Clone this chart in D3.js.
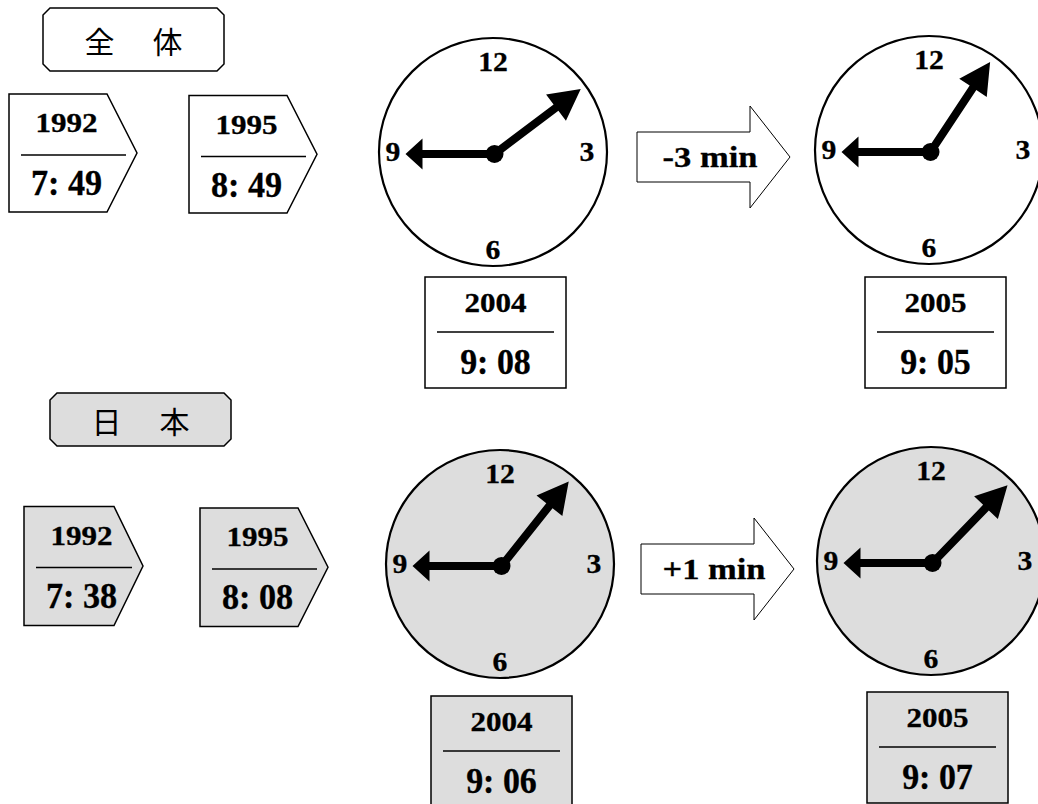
<!DOCTYPE html>
<html lang="ja">
<head>
<meta charset="utf-8">
<title>通勤時間</title>
<script src="https://cdnjs.cloudflare.com/ajax/libs/d3/7.8.5/d3.min.js"></script>
<style>
body { margin: 0; background: #fff; }
svg text { font-family: "Liberation Serif", "Times New Roman", serif; font-weight: bold; fill: #000; stroke: #000; stroke-width: 0.3px; }
svg text.jp { font-family: "Noto Sans CJK JP", sans-serif; font-weight: normal; stroke: none; }
</style>
</head>
<body>
<svg id="chart" width="1038" height="804"></svg>
<script>
// data
var groups = ["全　体", "日　本"];
var pastYears = [1992, 1995];
var pastTimes = [["7:49", "8:49"], ["7:38", "8:08"]];
var clockYears = [2004, 2005];
var clockTimes = [["9:08", "9:05"], ["9:06", "9:07"]];
var changes = ["-3 min", "+1 min"];
// long hand as drawn in the picture, degrees clockwise from 12
var minuteHandDeg = [[53, 33.5], [38.5, 44]];
var dialHours = [12, 3, 6, 9];
var fills = ["#ffffff", "#dddddd"];

// layout
var rows = [
  { title: {x: 43, y: 8, w: 181, h: 63},
    pents: [{x: 9, y: 94, w: 98, tip: 128, h: 118}, {x: 189, y: 95.5, w: 98, tip: 128, h: 117.5}],
    clocks: [{x: 493, y: 152}, {x: 929, y: 150}],
    boxes: [{x: 425, y: 277}, {x: 865, y: 277}],
    arrow: {x: 637, y: 157} },
  { title: {x: 50, y: 393, w: 181, h: 53},
    pents: [{x: 24, y: 506.5, w: 90, tip: 119, h: 119}, {x: 200, y: 508, w: 98, tip: 128, h: 118.5}],
    clocks: [{x: 500, y: 564}, {x: 931, y: 561}],
    boxes: [{x: 431, y: 696}, {x: 867, y: 692}],
    arrow: {x: 641, y: 569} }
];
var R = 114;
var dialR = {12: 90, 3: 94, 6: 98, 9: 100};

var svg = d3.select("#chart");
var hourScale = d3.scaleLinear().domain([0, 12]).range([0, 360]);
var line = d3.line();

function label(g, str, x, y, size, sx) {
  return g.append("text")
    .attr("transform", "translate(" + x + "," + y + ") scale(" + sx + ",1)")
    .attr("text-anchor", "middle")
    .style("font-size", size + "px")
    .text(str);
}

function handPath(L, w, hl, hw) {
  var b = -(L - hl);
  return line([[-w / 2, 0], [-w / 2, b], [-hw / 2, b], [0, -L], [hw / 2, b], [w / 2, b], [w / 2, 0]]) + "Z";
}

rows.forEach(function (row, r) {
  var g = svg.append("g");
  var fill = fills[r];

  // title box with cut corners
  var t = row.title, c = 7;
  g.append("path")
    .attr("d", line([[t.x + c, t.y], [t.x + t.w - c, t.y], [t.x + t.w, t.y + c], [t.x + t.w, t.y + t.h - c],
      [t.x + t.w - c, t.y + t.h], [t.x + c, t.y + t.h], [t.x, t.y + t.h - c], [t.x, t.y + c]]) + "Z")
    .attr("fill", fill).attr("stroke", "#000").attr("stroke-width", 1.5);
  g.append("text").attr("class", "jp")
    .attr("x", t.x + t.w / 2 + 2).attr("y", t.y + t.h / 2)
    .attr("text-anchor", "middle").attr("dominant-baseline", "central")
    .style("font-size", "30px").style("letter-spacing", "4px")
    .text(groups[r]);

  // past years (pentagons)
  row.pents.forEach(function (p, i) {
    g.append("path")
      .attr("d", line([[p.x, p.y], [p.x + p.w, p.y], [p.x + p.tip, p.y + p.h / 2], [p.x + p.w, p.y + p.h], [p.x, p.y + p.h]]) + "Z")
      .attr("fill", fill).attr("stroke", "#000").attr("stroke-width", 1.5);
    g.append("line")
      .attr("x1", p.x + 12).attr("x2", p.x + p.tip - 11)
      .attr("y1", p.y + 61).attr("y2", p.y + 61)
      .attr("stroke", "#000").attr("stroke-width", 1.5);
    label(g, pastYears[i], p.x + 57.5, p.y + 38, 27, 1.15);
    label(g, pastTimes[r][i].replace(":", ": "), p.x + 57.5, p.y + 101, 36, 0.95);
  });

  // change arrow
  var a = row.arrow;
  g.append("path")
    .attr("d", line([[a.x, a.y - 25], [a.x + 113, a.y - 25], [a.x + 113, a.y - 51], [a.x + 153, a.y],
      [a.x + 113, a.y + 51], [a.x + 113, a.y + 25], [a.x, a.y + 25]]) + "Z")
    .attr("fill", "#fff").attr("stroke", "#000").attr("stroke-width", 1);
  label(g, changes[r], a.x + 73, a.y + 10, 29.5, 1.17);

  // clocks
  row.clocks.forEach(function (ck, i) {
    var cg = g.append("g").attr("transform", "translate(" + ck.x + "," + ck.y + ")");
    cg.append("circle").attr("r", R).attr("fill", fill).attr("stroke", "#000").attr("stroke-width", 2.2);

    cg.selectAll("text.dial").data(dialHours).enter().append("text")
      .attr("class", "dial")
      .attr("transform", function (h) {
        var ang = hourScale(h) * Math.PI / 180;
        return "translate(" + (dialR[h] * Math.sin(ang)) + "," + (-dialR[h] * Math.cos(ang) + 9) + ") scale(1.12,1)";
      })
      .attr("text-anchor", "middle")
      .style("font-size", "26.5px")
      .text(function (h) { return h; });

    var hub = cg.append("g").attr("transform", "translate(1.5,2)");
    var hour = +clockTimes[r][i].split(":")[0];
    hub.append("path")
      .attr("d", handPath(89, 8, 17, 31))
      .attr("transform", "rotate(" + hourScale(hour) + ")");
    hub.append("path")
      .attr("d", handPath(108, 8, 31, 33))
      .attr("transform", "rotate(" + minuteHandDeg[r][i] + ")");
    hub.append("circle").attr("r", 9);

    // year / time box below the clock
    var b = row.boxes[i];
    g.append("rect").attr("x", b.x).attr("y", b.y).attr("width", 141).attr("height", 111)
      .attr("fill", fill).attr("stroke", "#000").attr("stroke-width", 1.5);
    g.append("line")
      .attr("x1", b.x + 12).attr("x2", b.x + 129)
      .attr("y1", b.y + 55).attr("y2", b.y + 55)
      .attr("stroke", "#000").attr("stroke-width", 1.5);
    label(g, clockYears[i], b.x + 70.5, b.y + 35, 27, 1.15);
    label(g, clockTimes[r][i].replace(":", ": "), b.x + 70.5, b.y + 97, 35, 0.97);
  });
});
</script>
</body>
</html>
